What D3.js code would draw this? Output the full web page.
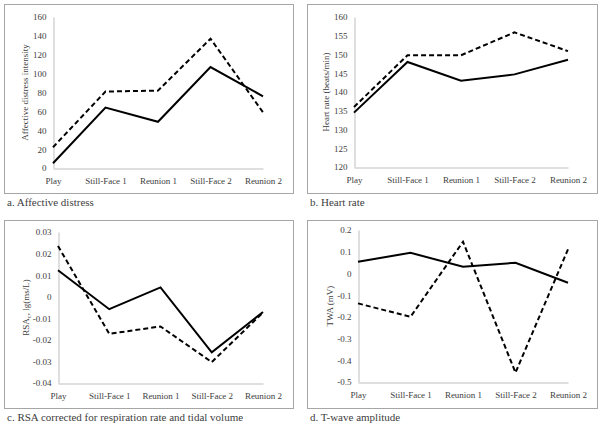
<!DOCTYPE html>
<html><head><meta charset="utf-8">
<script src="https://cdn.jsdelivr.net/npm/d3@7"></script>
<style>body{margin:0;background:#fff}svg{display:block}text{font-family:"Liberation Serif","Times New Roman",serif;fill:#404040}</style>
</head><body>
<svg id="c" width="604" height="427"></svg>
<script>
const categories = ["Play", "Still-Face 1", "Reunion 1", "Still-Face 2", "Reunion 2"];

const affectSolid  = [5, 64, 49, 107, 76];
const affectDashed = [22, 81, 82, 137, 59];
const affectTicks  = [0, 20, 40, 60, 80, 100, 120, 140, 160];

const hrSolid  = [134.5, 148, 143, 144.7, 148.6];
const hrDashed = [136, 149.8, 149.8, 155.9, 150.9];
const hrTicks  = [120, 125, 130, 135, 140, 145, 150, 155, 160];

const rsaSolid  = [0.0123, -0.0058, 0.0043, -0.0258, -0.0071];
const rsaDashed = [0.0235, -0.0172, -0.0138, -0.0303, -0.0073];
const rsaTicks  = [-0.04, -0.03, -0.02, -0.01, 0, 0.01, 0.02, 0.03];

const twaSolid  = [0.054, 0.095, 0.031, 0.049, -0.043];
const twaDashed = [-0.138, -0.2, 0.146, -0.457, 0.111];
const twaTicks  = [-0.5, -0.4, -0.3, -0.2, -0.1, 0, 0.1, 0.2];

const svg = d3.select("#c");

const panels = [
  {box:[4,4,293,193], xr:[53,263], yr:[168,17], dom:[0,160], ticks:affectTicks, fmt:d=>String(d),
   solid:affectSolid, dashed:affectDashed, title:"Affective distress intensity", tx:25, caption:"a. Affective distress", cy:206},
  {box:[307,4,597,193], xr:[354,568], yr:[167,17], dom:[120,160], ticks:hrTicks, fmt:d=>String(d),
   solid:hrSolid, dashed:hrDashed, title:"Heart rate (beats/min)", tx:326, caption:"b. Heart rate", cy:206},
  {box:[4,220,293,408], xr:[58,263], yr:[383,232], dom:[-0.04,0.03], ticks:rsaTicks, fmt:d=>String(+d.toFixed(2)),
   solid:rsaSolid, dashed:rsaDashed, title:"RSA", sub:true, tx:26, caption:"c. RSA corrected for respiration rate and tidal volume", cy:421},
  {box:[307,220,597,408], xr:[358,568], yr:[382,230], dom:[-0.5,0.2], ticks:twaTicks, fmt:d=>String(+d.toFixed(1)),
   solid:twaSolid, dashed:twaDashed, title:"TWA (mV)", tx:330, caption:"d. T-wave amplitude", cy:421}
];

panels.forEach(p => {
  const g = svg.append("g");
  const [x0,y0,x1,y1] = p.box;
  g.append("rect").attr("x",x0+0.5).attr("y",y0+0.5).attr("width",x1-x0).attr("height",y1-y0)
    .attr("fill","none").attr("stroke","#a6a6a6").attr("stroke-width",1);

  const x = d3.scalePoint().domain(categories).range(p.xr);
  const y = d3.scaleLinear().domain(p.dom).range(p.yr);

  // y axis
  const ya = g.append("g").attr("transform",`translate(${p.xr[0]+0.5},0)`)
    .call(d3.axisLeft(y).tickValues(p.ticks).tickFormat(p.fmt).tickSize(0).tickPadding(7));
  ya.select(".domain").attr("stroke","#bfbfbf");
  ya.selectAll("text").attr("font-size",9).attr("fill","#404040").style("font-family","Liberation Serif");

  // x axis
  const xa = g.append("g").attr("transform",`translate(0,${p.yr[0]+0.5})`)
    .call(d3.axisBottom(x).tickSize(0).tickPadding(9));
  xa.select(".domain").attr("stroke","#bfbfbf");
  xa.selectAll("text").attr("font-size",9).attr("fill","#404040").style("font-family","Liberation Serif");

  const line = d3.line().x((d,i)=>x(categories[i])).y(d=>y(d));
  g.append("path").datum(p.solid).attr("d",line).attr("fill","none")
    .attr("stroke","#000").attr("stroke-width",2).attr("stroke-linejoin","miter");
  g.append("path").datum(p.dashed).attr("d",line).attr("fill","none")
    .attr("stroke","#000").attr("stroke-width",2).attr("stroke-dasharray","5,3");

  const ym = (p.yr[0]+p.yr[1])/2;
  const t = g.append("text").attr("transform",`translate(${p.tx},${ym}) rotate(-90)`)
    .attr("text-anchor","middle").attr("dominant-baseline","central").attr("font-size",9);
  if (p.sub) {
    t.append("tspan").text("RSA");
    t.append("tspan").attr("font-size",6.5).attr("dy",2).text("c");
    t.append("tspan").attr("dy",-2).text(", lg(ms/L)");
  } else {
    t.text(p.title);
  }

  g.append("text").attr("x",x0+3).attr("y",p.cy).attr("font-size",11).attr("fill","#222").text(p.caption);
});
</script>
</body></html>
